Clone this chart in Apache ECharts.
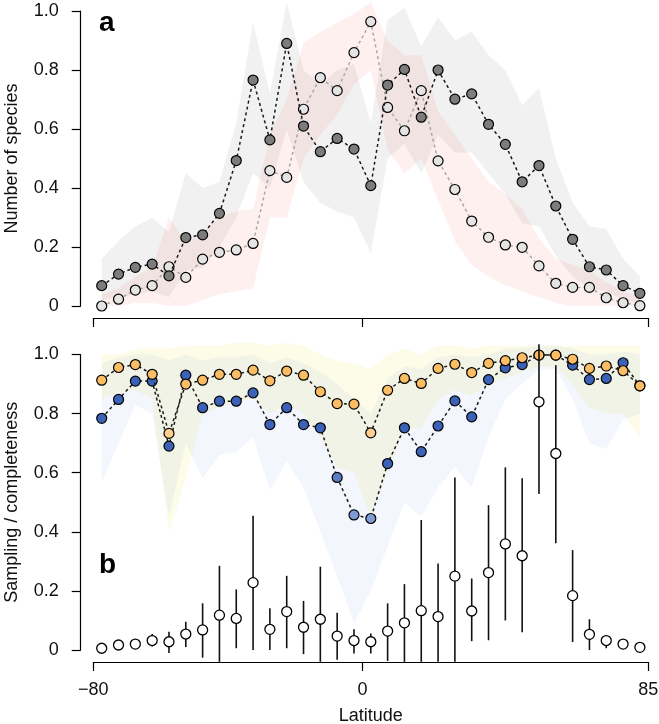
<!DOCTYPE html>
<html><head><meta charset="utf-8">
<script src="https://cdn.jsdelivr.net/npm/echarts@6/dist/echarts.min.js"></script>
<style>html,body{margin:0;padding:0;background:#fff}#c{width:659px;height:724px}</style>
</head><body><div id="c"></div>
<script>
// ---------- data ----------
const lat = [-77.5,-72.5,-67.5,-62.5,-57.5,-52.5,-47.5,-42.5,-37.5,-32.5,-27.5,-22.5,-17.5,-12.5,-7.5,-2.5,2.5,7.5,12.5,17.5,22.5,27.5,32.5,37.5,42.5,47.5,52.5,57.5,62.5,67.5,72.5,77.5,82.5];
const xTicks = [-80, 0, 85];
const yTicks = [0, 0.2, 0.4, 0.6, 0.8, 1.0];

// panel a
const darkA  = [0.069,0.108,0.131,0.142,0.102,0.232,0.241,0.314,0.493,0.766,0.563,0.890,0.610,0.523,0.568,0.532,0.408,0.749,0.802,0.640,0.800,0.701,0.719,0.616,0.548,0.421,0.476,0.339,0.226,0.133,0.122,0.069,0.043];
const lightA = [0.000,0.023,0.054,0.069,0.133,0.097,0.159,0.182,0.190,0.212,0.459,0.436,0.667,0.774,0.730,0.859,0.964,0.673,0.594,0.730,0.492,0.395,0.288,0.233,0.207,0.199,0.136,0.077,0.063,0.063,0.028,0.011,0.001];
const greyLo = [0.02,0.03,0.04,0.05,0.03,0.12,0.13,0.20,0.30,0.45,0.40,0.60,0.42,0.35,0.32,0.30,0.18,0.50,0.55,0.45,0.58,0.52,0.52,0.45,0.38,0.28,0.27,0.17,0.10,0.06,0.05,0.02,0.01];
const greyHi = [0.16,0.22,0.27,0.30,0.25,0.45,0.40,0.42,0.62,0.96,0.72,1.03,0.80,0.75,0.80,0.82,0.62,0.97,1.01,0.88,0.98,0.90,0.93,0.85,0.80,0.68,0.74,0.50,0.35,0.27,0.26,0.16,0.10];
const pinkLo = [0.00,0.00,0.01,0.01,0.00,0.00,0.02,0.04,0.05,0.06,0.30,0.30,0.50,0.58,0.65,0.75,0.80,0.53,0.45,0.50,0.36,0.22,0.14,0.10,0.07,0.05,0.03,0.01,0.00,0.00,0.00,0.00,0.00];
const pinkHi = [0.04,0.06,0.10,0.13,0.30,0.22,0.25,0.30,0.32,0.33,0.58,0.70,0.89,0.93,0.96,0.99,1.03,0.90,0.85,0.85,0.66,0.58,0.50,0.42,0.38,0.33,0.23,0.16,0.14,0.12,0.08,0.05,0.03];

// panel b
const orangeB = [0.913,0.956,0.966,0.933,0.733,0.900,0.913,0.933,0.933,0.947,0.911,0.944,0.930,0.874,0.834,0.832,0.735,0.879,0.919,0.902,0.953,0.967,0.939,0.970,0.979,0.989,0.998,0.998,0.984,0.953,0.961,0.945,0.894];
const blueB   = [0.784,0.848,0.910,0.910,0.690,0.930,0.820,0.842,0.842,0.870,0.763,0.820,0.763,0.752,0.584,0.457,0.445,0.631,0.752,0.671,0.758,0.843,0.789,0.915,0.955,0.966,0.998,0.998,0.964,0.915,0.919,0.972,0.894];
const yellowLo = [0.85,0.87,0.88,0.85,0.40,0.58,0.80,0.82,0.84,0.85,0.80,0.83,0.80,0.72,0.62,0.60,0.45,0.60,0.75,0.75,0.85,0.88,0.86,0.90,0.92,0.94,0.96,0.96,0.90,0.82,0.80,0.80,0.72];
const yellowHi = [1.00,1.00,1.02,1.02,1.02,1.03,1.03,1.03,1.04,1.04,1.03,1.04,1.03,1.00,0.98,0.97,0.95,1.00,1.02,1.00,1.03,1.03,1.02,1.03,1.03,1.03,1.03,1.03,1.03,1.03,1.03,1.03,1.03];
const blueLo = [0.57,0.70,0.83,0.80,0.45,0.70,0.58,0.66,0.67,0.72,0.54,0.64,0.55,0.40,0.25,0.09,0.20,0.35,0.50,0.45,0.55,0.62,0.55,0.72,0.85,0.90,0.95,0.95,0.85,0.70,0.68,0.78,0.80];
const blueHi = [0.97,0.99,1.00,1.00,0.98,1.00,0.98,0.99,0.99,1.00,0.97,0.99,0.97,0.94,0.90,0.85,0.80,0.92,0.96,0.95,0.99,1.00,0.99,1.00,1.02,1.02,1.03,1.03,1.02,1.00,1.00,1.01,1.00];
const whiteB  = [0.006,0.017,0.020,0.032,0.028,0.054,0.068,0.118,0.107,0.228,0.070,0.130,0.077,0.104,0.047,0.032,0.028,0.064,0.092,0.133,0.113,0.250,0.132,0.262,0.359,0.319,0.840,0.665,0.184,0.053,0.032,0.020,0.009];
const whiteLo = [null,null,null,0.012,-0.01,0.01,-0.026,-0.05,0.006,0.0,0.0,0.006,-0.014,-0.05,-0.033,-0.012,-0.012,-0.037,-0.05,-0.05,-0.05,-0.05,0.03,0.033,0.10,0.06,0.528,0.361,0.027,0.0,0.006,null,null];
const whiteHi = [null,null,null,0.054,0.062,0.096,0.158,0.285,0.205,0.454,0.141,0.251,0.166,0.282,0.126,0.070,0.056,0.158,0.223,0.440,0.293,0.584,0.242,0.490,0.618,0.581,1.035,0.964,0.338,0.104,0.050,null,null];

// ---------- chart ----------
const FONT = '"Liberation Sans", Arial, Helvetica, sans-serif';
const AX = '#000';
const FS = 18;
const chart = echarts.init(document.getElementById('c'));

function band(gi, lo, hi, fill, z) {
  return {
    type: 'custom', xAxisIndex: gi, yAxisIndex: gi, z: z, silent: true,
    data: lat.map((x, i) => [x, lo[i], hi[i]]),
    renderItem(params, api) {
      if (params.dataIndexInside !== 0) return null;
      const n = params.dataInsideLength;
      const up = [], dn = [];
      for (let j = 0; j < n; j++) {
        up.push(api.coord([api.value(0, j), api.value(2, j)]));
        dn.push(api.coord([api.value(0, j), api.value(1, j)]));
      }
      return { type: 'polygon', shape: { points: up.concat(dn.reverse()) }, style: { fill: fill } };
    }
  };
}
function dots(gi, vals, colorFn, lineColor, z) {
  return {
    type: 'line', xAxisIndex: gi, yAxisIndex: gi, z: z, silent: true, clip: false,
    symbol: 'circle', symbolSize: 10,
    lineStyle: { color: lineColor, width: 1.5, type: [3, 3] },
    itemStyle: { borderColor: '#000', borderWidth: 1.2 },
    data: vals.map((v, i) => ({ value: [lat[i], v], itemStyle: { color: colorFn(v), borderColor: '#000', borderWidth: 1.2 } }))
  };
}
function xAx(gi, showLabels) {
  return {
    gridIndex: gi, type: 'value', min: -80, max: 85, offset: 12,
    axisLine: { show: true, onZero: false, lineStyle: { color: AX, width: 1.2 } },
    axisTick: { show: true, length: 9, customValues: xTicks, lineStyle: { color: AX, width: 1.2 } },
    axisLabel: { show: showLabels, customValues: xTicks, margin: 19, fontSize: FS, color: '#111', fontFamily: FONT,
      formatter: v => String(v).replace('-', '\u2212') },
    splitLine: { show: false },
    name: showLabels ? 'Latitude' : '', nameLocation: 'middle', nameGap: 45,
    nameTextStyle: { fontSize: FS, color: '#111', fontFamily: FONT }
  };
}
function yAx(gi, name) {
  return {
    gridIndex: gi, type: 'value', min: 0, max: 1, interval: 0.2, offset: 12.6,
    axisLine: { show: true, onZero: false, lineStyle: { color: AX, width: 1.2 } },
    axisTick: { show: true, length: 9, lineStyle: { color: AX, width: 1.2 } },
    axisLabel: { margin: 22, fontSize: FS, color: '#111', fontFamily: FONT,
      formatter: v => v === 0 ? '0' : v.toFixed(1) },
    splitLine: { show: false },
    name: name, nameLocation: 'middle', nameGap: 60,
    nameTextStyle: { fontSize: FS, color: '#111', fontFamily: FONT }
  };
}

const option = {
  animation: false,
  backgroundColor: '#fff',
  title: [
    { text: 'a', left: 94, top: 4, textStyle: { fontSize: 28, fontWeight: 'bold', color: '#000', fontFamily: FONT } },
    { text: 'b', left: 94, top: 546, textStyle: { fontSize: 28, fontWeight: 'bold', color: '#000', fontFamily: FONT } }
  ],
  grid: [
    { left: 93.3, width: 555, top: 11, height: 295, outerBoundsMode: 'none', containLabel: false },
    { left: 93.3, width: 555, top: 354.5, height: 295.5, outerBoundsMode: 'none', containLabel: false }
  ],
  xAxis: [xAx(0, false), xAx(1, true)],
  yAxis: [yAx(0, 'Number of species'), yAx(1, 'Sampling / completeness')],
  series: [
    band(0, greyLo, greyHi, 'rgba(120,120,120,0.10)', 1),
    band(0, pinkLo, pinkHi, 'rgba(235,105,90,0.10)', 2),
    dots(0, lightA, v => '#e4e4e4', '#a8a8a8', 5),
    dots(0, darkA, v => '#7c7c7c', '#1a1a1a', 6),
    band(1, yellowLo, yellowHi, 'rgba(235,235,80,0.13)', 1),
    band(1, blueLo, blueHi, 'rgba(100,140,220,0.08)', 2),
    dots(1, blueB, v => v < 0.5 ? '#7f9bd6' : (v < 0.6 ? '#5c7dc6' : '#3b62b6'), '#1a1a1a', 5),
    dots(1, orangeB, v => v < 0.8 ? '#fcce8f' : '#fbbd63', '#1a1a1a', 6),
    {
      type: 'custom', xAxisIndex: 1, yAxisIndex: 1, z: 7, silent: true,
      data: lat.map((x, i) => [x, whiteLo[i], whiteHi[i]]),
      renderItem(params, api) {
        const lo = api.value(1), hi = api.value(2);
        if (lo == null || isNaN(lo) || isNaN(hi)) return null;
        const p1 = api.coord([api.value(0), Math.max(lo, -0.04)]);
        const p2 = api.coord([api.value(0), hi]);
        return { type: 'line', shape: { x1: p1[0], y1: p1[1], x2: p2[0], y2: p2[1] }, style: { stroke: '#111', lineWidth: 1.6 } };
      }
    },
    {
      type: 'scatter', xAxisIndex: 1, yAxisIndex: 1, z: 8, silent: true, clip: false,
      symbol: 'circle', symbolSize: 10,
      itemStyle: { color: '#fff', borderColor: '#000', borderWidth: 1.3, opacity: 1 },
      data: whiteB.map((v, i) => [lat[i], v])
    }
  ]
};
chart.setOption(option);
</script>
</body></html>
